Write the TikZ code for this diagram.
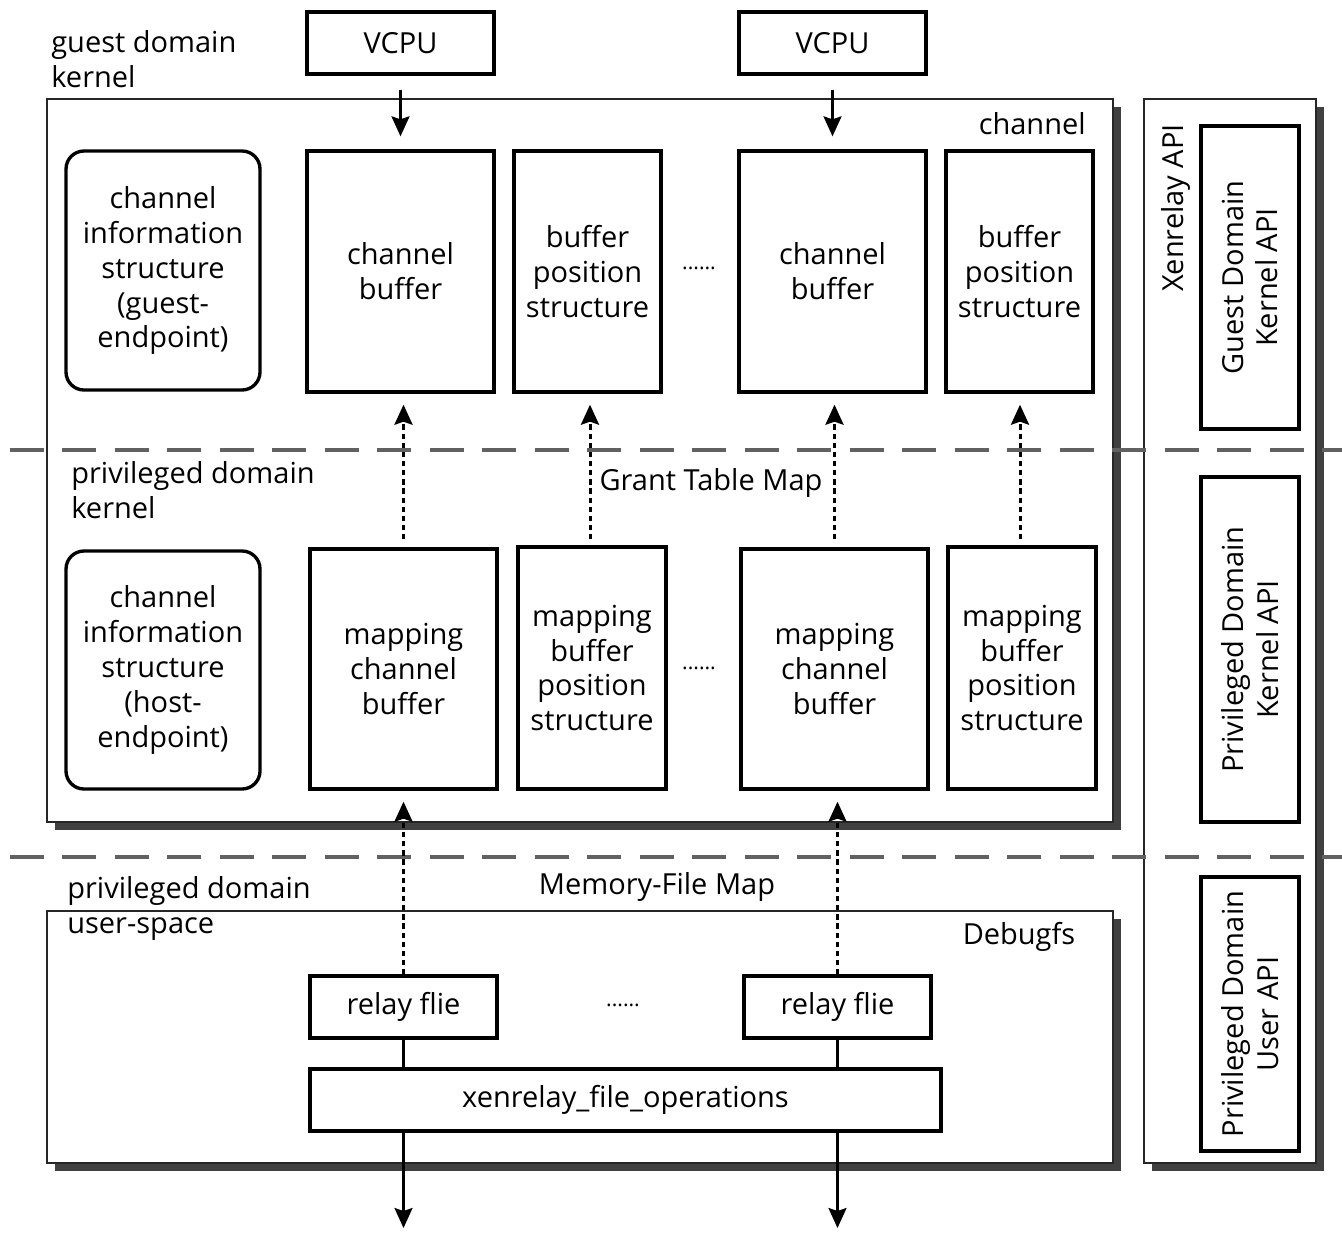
\documentclass[tikz,border=0pt]{standalone}
\usepackage{fontspec}
\setmainfont{Open Sans}
\usetikzlibrary{arrows.meta,shadows}
\begin{document}
\begin{tikzpicture}[x=0.02cm,y=-0.02cm,
  every node/.style={font=\fontsize{16.5}{19.9}\selectfont},
  sz/.style 2 args={minimum width=#1*0.02cm, minimum height=#2*0.02cm},
  box/.style={draw, line width=1.9pt, fill=white, inner sep=0pt, align=center},
  rbox/.style={box, rounded corners=0.36cm},
  cont/.style={draw=black!85, line width=1.1pt, fill=white, inner sep=0pt,
    drop shadow={shadow xshift=0.16cm, shadow yshift=-0.15cm, opacity=1, fill=black!75}},
  sep/.style={draw=black!62, line width=2.3pt, dash pattern=on 0.68cm off 0.37cm},
  tip/.style={-{Stealth[length=0.4cm,width=0.36cm,inset=0.06cm]}},
  sarr/.style={tip, line width=1.4pt},
  darr/.style={tip, line width=1.7pt, dash pattern=on 3pt off 2.2pt},
  lnk/.style={line width=1.6pt},
  lbl/.style={align=left, inner sep=0pt},
  dots/.style={inner sep=0pt, font=\fontsize{12}{14}\selectfont}
]
\useasboundingbox (0,0) rectangle (1342,1232);

% containers
\node[cont, sz={1066}{723}] (chan) at (580,460.5) {};
\node[cont, sz={1066}{252}] (dbg) at (580,1037) {};
\node[cont, sz={172}{1064}] (api) at (1230,631) {};

% separators
\coordinate (s1a) at (10,450);
\coordinate (s1b) at (1342,450);
\coordinate (s2a) at (10,857);
\coordinate (s2b) at (1342,857);
\draw[sep] (s1a) -- (s1b);
\draw[sep] (s2a) -- (s2b);

% VCPUs
\node[box, sz={187}{62}] (vcpu1) at (400.5,43) {VCPU};
\node[box, sz={187}{62}] (vcpu2) at (832.5,43) {VCPU};

% guest kernel row
\node[rbox, sz={194}{239}] (gci) at (163,270.5) {channel\\information\\structure\\(guest-\\endpoint)};
\node[box, sz={187}{241}] (cb1) at (400.5,271.5) {channel\\buffer};
\node[box, sz={147}{241}] (bps1) at (587.5,271.5) {buffer\\position\\structure};
\node[dots] (d1) at (699,268) {......};
\node[box, sz={187}{241}] (cb2) at (832.5,271.5) {channel\\buffer};
\node[box, sz={147}{241}] (bps2) at (1019.5,271.5) {buffer\\position\\structure};

% privileged kernel row
\node[rbox, sz={194}{238}] (hci) at (163,670) {channel\\information\\structure\\(host-\\endpoint)};
\node[box, sz={187}{240}] (mcb1) at (403.5,669) {mapping\\channel\\buffer};
\node[box, sz={148}{242}] (mbps1) at (592,668) {mapping\\buffer\\position\\structure};
\node[dots] (d2) at (699,668) {......};
\node[box, sz={187}{240}] (mcb2) at (834.5,669) {mapping\\channel\\buffer};
\node[box, sz={148}{242}] (mbps2) at (1022,668) {mapping\\buffer\\position\\structure};

% user space
\node[box, sz={187}{62}] (rf1) at (403.5,1007) {relay flie};
\node[dots] (d3) at (623,1005) {......};
\node[box, sz={187}{62}] (rf2) at (837.5,1007) {relay flie};
\node[box, sz={631}{62}] (xen) at (625.5,1100) {xenrelay\_file\_operations};

% API column
\node[lbl, rotate=90] (xapi) at (1176,208) {Xenrelay API};
\node[box, rotate=90, sz={303}{98}] (gkapi) at (1250,277.5) {Guest Domain\\Kernel API};
\node[box, rotate=90, sz={345}{98}] (pkapi) at (1250,649.5) {Privileged Domain\\Kernel API};
\node[box, rotate=90, sz={274}{98}] (puapi) at (1250,1014) {Privileged Domain\\User API};

% labels
\node[lbl, anchor=west] (lg) at (51,59) {guest domain\\kernel};
\node[lbl, anchor=east] (lch) at (1086,124) {channel};
\node[lbl, anchor=west] (lpk) at (71,490) {privileged domain\\kernel};
\node[lbl] (lgt) at (711,483) {Grant Table Map};
\node[lbl, anchor=west] (lpu) at (67,908) {privileged domain\\user-space};
\node[lbl] (lmf) at (657,887) {Memory-File Map};
\node[lbl] (ldb) at (1019,937) {Debugfs};

% VCPU arrows
\draw[sarr, shorten <=0.28cm, shorten >=0.26cm] (vcpu1.south) -- (cb1.north);
\draw[sarr, shorten <=0.28cm, shorten >=0.26cm] (vcpu2.south) -- (cb2.north);

% grant table map arrows
\draw[darr, shorten <=0.16cm, shorten >=0.22cm] (mcb1.north) -- (mcb1.north |- cb1.south);
\draw[darr, shorten <=0.12cm, shorten >=0.22cm] (mbps1.north) ++(-2,0) coordinate (g2) -- (g2 |- bps1.south);
\draw[darr, shorten <=0.16cm, shorten >=0.22cm] (mcb2.north) -- (mcb2.north |- cb2.south);
\draw[darr, shorten <=0.12cm, shorten >=0.22cm] (mbps2.north) ++(-2,0) coordinate (g4) -- (g4 |- bps2.south);

% memory-file map arrows
\draw[darr, shorten >=0.22cm] (rf1.north) -- (rf1.north |- mcb1.south);
\draw[darr, shorten >=0.22cm] (rf2.north) -- (rf2.north |- mcb2.south);

% relay files to operations
\draw[lnk] (rf1.south) -- (rf1.south |- xen.north);
\draw[lnk] (rf2.south) -- (rf2.south |- xen.north);

% outputs
\coordinate (o1) at (403.5,1228);
\coordinate (o2) at (837.5,1228);
\draw[sarr] (o1 |- xen.south) -- (o1);
\draw[sarr] (o2 |- xen.south) -- (o2);
\end{tikzpicture}
\end{document}
